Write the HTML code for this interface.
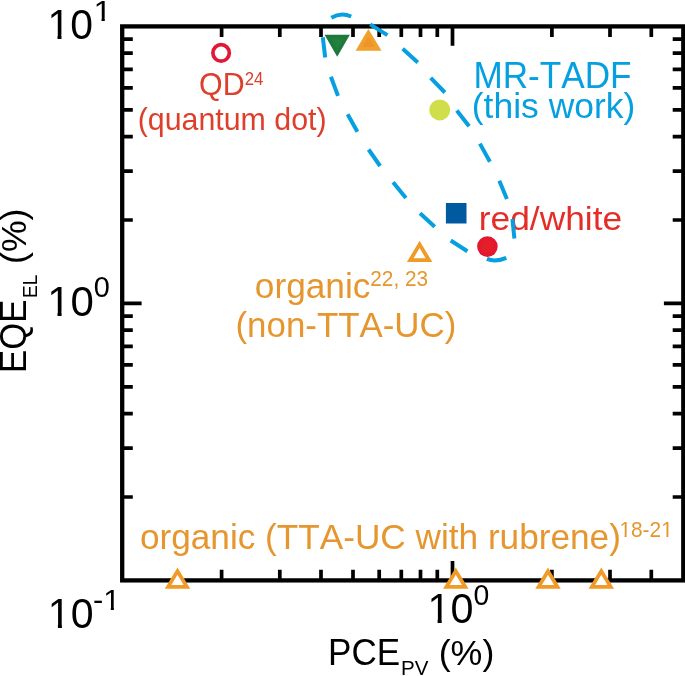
<!DOCTYPE html>
<html lang="en"><head><meta charset="utf-8"><title>EQE vs PCE</title>
<style>html,body{margin:0;padding:0;background:#fff}body{width:685px;height:676px;overflow:hidden}svg{display:block}text{font-family:"Liberation Sans",sans-serif;font-kerning:none}</style>
</head><body>
<svg width="685" height="676" viewBox="0 0 685 676">
<rect width="685" height="676" fill="#fff"/>
<path d="M221.6 580.4v-10.6M221.6 26.4v10.6M279.8 580.4v-10.6M279.8 26.4v10.6M321.0 580.4v-10.6M321.0 26.4v10.6M353.0 580.4v-10.6M353.0 26.4v10.6M379.2 580.4v-10.6M379.2 26.4v10.6M401.3 580.4v-10.6M401.3 26.4v10.6M420.5 580.4v-10.6M420.5 26.4v10.6M437.3 580.4v-10.6M437.3 26.4v10.6M452.5 580.4v-19.4M452.5 26.4v19.4M551.9 580.4v-10.6M551.9 26.4v10.6M610.0 580.4v-10.6M610.0 26.4v10.6M651.3 580.4v-10.6M651.3 26.4v10.6M122.2 497.0h10.6M683.3 497.0h-10.6M122.2 448.2h10.6M683.3 448.2h-10.6M122.2 413.6h10.6M683.3 413.6h-10.6M122.2 386.8h10.6M683.3 386.8h-10.6M122.2 364.9h10.6M683.3 364.9h-10.6M122.2 346.3h10.6M683.3 346.3h-10.6M122.2 330.2h10.6M683.3 330.2h-10.6M122.2 316.1h10.6M683.3 316.1h-10.6M122.2 303.4h19.4M683.3 303.4h-19.4M122.2 220.0h10.6M683.3 220.0h-10.6M122.2 171.2h10.6M683.3 171.2h-10.6M122.2 136.6h10.6M683.3 136.6h-10.6M122.2 109.8h10.6M683.3 109.8h-10.6M122.2 87.9h10.6M683.3 87.9h-10.6M122.2 69.3h10.6M683.3 69.3h-10.6M122.2 53.2h10.6M683.3 53.2h-10.6M122.2 39.1h10.6M683.3 39.1h-10.6" stroke="#000" stroke-width="3.7" fill="none"/>
<rect x="122.2" y="26.4" width="561.1" height="554.0" fill="none" stroke="#000" stroke-width="4.3"/>
<text x="47.4" y="38.6" font-size="42.4" textLength="45.5" lengthAdjust="spacingAndGlyphs">10</text><path d="M49.4 34.7H57.5V39.2H49.4ZM61.5 34.7H69.3V39.2H61.5Z" fill="#fff"/><text x="93.4" y="20.6" font-size="28.6" textLength="18.3" lengthAdjust="spacingAndGlyphs">1</text><path d="M95.0 17.8H101.5V21.2H95.0ZM104.8 17.8H111.0V21.2H104.8Z" fill="#fff"/>
<text x="47.2" y="315.5" font-size="42.4" textLength="46.7" lengthAdjust="spacingAndGlyphs">10</text><path d="M49.2 311.6H57.5V316.1H49.2ZM61.6 311.6H69.6V316.1H61.6Z" fill="#fff"/><text x="93.8" y="296.8" font-size="28.6" textLength="16.1" lengthAdjust="spacingAndGlyphs">0</text>
<text x="47.8" y="627.8" font-size="42.4" textLength="45.7" lengthAdjust="spacingAndGlyphs">10</text><path d="M49.8 623.9H57.9V628.4H49.8ZM61.9 623.9H69.7V628.4H61.9Z" fill="#fff"/><text x="92.9" y="609.7" font-size="28.6" textLength="27.4" lengthAdjust="spacingAndGlyphs">-1</text><path d="M104.7 606.9H110.8V610.3H104.7ZM113.9 606.9H119.7V610.3H113.9Z" fill="#fff"/>
<text x="427.4" y="622.9" font-size="42.4" textLength="46.0" lengthAdjust="spacingAndGlyphs">10</text><path d="M429.4 619.0H437.6V623.5H429.4ZM441.7 619.0H449.5V623.5H441.7Z" fill="#fff"/><text x="473.6" y="605.1" font-size="28.6" textLength="15.8" lengthAdjust="spacingAndGlyphs">0</text>
<g transform="translate(25.5 370) rotate(-90)"><text x="-2.9" y="0" font-size="36.4" textLength="73.4" lengthAdjust="spacingAndGlyphs">EQE</text><text x="72.0" y="11.5" font-size="20.8" textLength="23.5" lengthAdjust="spacingAndGlyphs">EL</text><text x="106.1" y="0" font-size="35.7" textLength="55.4" lengthAdjust="spacingAndGlyphs">(%)</text></g>
<text x="328.0" y="665.0" font-size="36.3" textLength="72.1" lengthAdjust="spacingAndGlyphs">PCE</text><text x="401.1" y="674.7" font-size="20.8" textLength="27.4" lengthAdjust="spacingAndGlyphs">PV</text><text x="438.7" y="664.6" font-size="35" textLength="55.6" lengthAdjust="spacingAndGlyphs">(%)</text>
<g fill="#de3f2b"><text x="199.1" y="95.1" font-size="31" textLength="45.6" lengthAdjust="spacingAndGlyphs">QD</text><text x="244.7" y="84.8" font-size="18.3" textLength="18.7" lengthAdjust="spacingAndGlyphs">24</text><text x="137.7" y="129.8" font-size="30.5" textLength="188.9" lengthAdjust="spacingAndGlyphs">(quantum dot)</text></g>
<g fill="#06a0e0"><text x="473.4" y="88.0" font-size="36.5" textLength="158.2" lengthAdjust="spacingAndGlyphs">MR-TADF</text><text x="471.8" y="118.3" font-size="34.5" textLength="163.5" lengthAdjust="spacingAndGlyphs">(this work)</text></g>
<text x="478.8" y="229.6" font-size="34" textLength="143.4" lengthAdjust="spacingAndGlyphs" fill="#e52d28">red/white</text>
<g fill="#e6962e"><text x="254.8" y="297.5" font-size="35.5" textLength="115.6" lengthAdjust="spacingAndGlyphs">organic</text><text x="370.3" y="286.2" font-size="21.6" textLength="57.8" lengthAdjust="spacingAndGlyphs">22, 23</text><text x="235.5" y="337.1" font-size="35.5" textLength="220.8" lengthAdjust="spacingAndGlyphs">(non-TTA-UC)</text>
<text x="139.9" y="549.2" font-size="35.8" textLength="481.0" lengthAdjust="spacingAndGlyphs">organic (TTA-UC with rubrene)</text><text x="619.4" y="537.0" font-size="22" textLength="53.4" lengthAdjust="spacingAndGlyphs">18-21</text><path d="M620.4 534.7H624.5V537.6H620.4ZM626.6 534.7H630.6V537.6H626.6Z" fill="#fff"/><path d="M662.2 534.7H666.4V537.6H662.2ZM668.4 534.7H672.4V537.6H668.4Z" fill="#fff"/></g>
<circle cx="221.1" cy="52.9" r="8.2" fill="#fff" stroke="#e21838" stroke-width="3.7"/>
<path d="M327.8 36.6H346.6L337.2 52.9Z" fill="#23803f" stroke="#1e7a3b" stroke-width="3.8"/>
<path d="M368.4 32.7L378.2 48.9H358.9Z" fill="#ee942d" stroke="#f0a02d" stroke-width="3.8"/>
<circle cx="439.7" cy="109.9" r="10.5" fill="#d1de4b"/>
<rect x="445.9" y="203" width="20.6" height="20.5" fill="#005aa0"/>
<circle cx="487.4" cy="246.6" r="8.4" fill="#e41f2a" stroke="#e3192f" stroke-width="3.8"/>
<path d="M419.6 244.4L429.0 260.2H410.2Z" fill="#fff" stroke="#f09a28" stroke-width="3.8" stroke-linejoin="miter"/>
<path d="M177.5 571.1L186.9 586.9H168.1Z" fill="#fff" stroke="#f09a28" stroke-width="3.8" stroke-linejoin="miter"/>
<path d="M455.8 571.1L465.2 586.9H446.4Z" fill="#fff" stroke="#f09a28" stroke-width="3.8" stroke-linejoin="miter"/>
<path d="M548.0 571.1L557.4 586.9H538.6Z" fill="#fff" stroke="#f09a28" stroke-width="3.8" stroke-linejoin="miter"/>
<path d="M601.3 571.1L610.7 586.9H591.9Z" fill="#fff" stroke="#f09a28" stroke-width="3.8" stroke-linejoin="miter"/>
<path d="M370.2 24.4L387.4 35.1M402.7 48.8L417.8 62.5M430.7 77.8L444.9 92.5M456.8 110.5L469.1 126.3M479.9 143.6L489.9 161.8M499.3 180.7L506.9 198.9M512.4 219L514.4 238.5M467.4 251.3L450.7 240.5M434.7 226.8L420 213.3M405.9 197.9L393.1 182.3M380.1 166L368.6 149.5M357.4 131.7L347.6 114.3M338 95.9L330.9 76.7M325.2 57.6L322.8 37.3M331.3 17.8Q340.8 12.1 351.2 16.5M506.3 257.9Q495.4 262.6 486.9 258.9" fill="none" stroke="#06a0e0" stroke-width="4"/>
</svg></body></html>
